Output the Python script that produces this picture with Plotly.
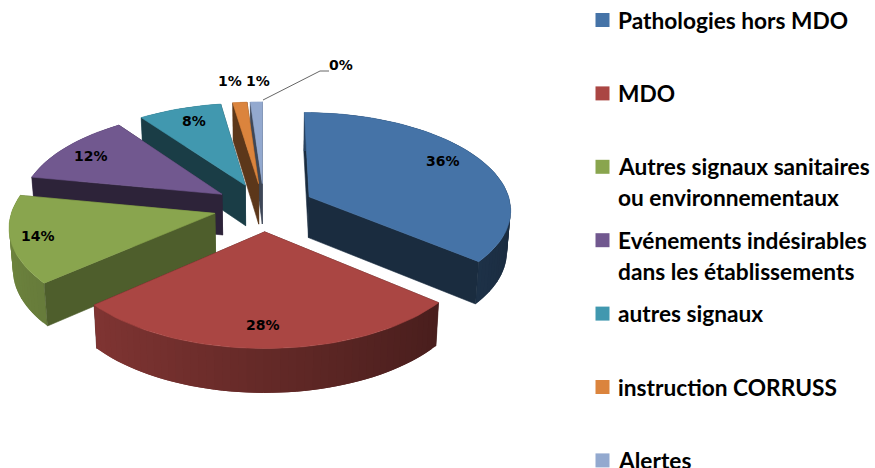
import math
import plotly.graph_objects as go

categories = ["Pathologies hors MDO", "MDO", "Autres signaux sanitaires<br>ou environnementaux",
              "Evénements indésirables<br>dans les établissements", "autres signaux",
              "instruction CORRUSS", "Alertes"]
values = [36, 27.6, 14.4, 12, 7.6, 1.3, 1.1]
shown_labels = [36, 28, 14, 12, 8, 1, 1]
hidden_label_value = 0
colors = ["#4573A7", "#AA4643", "#89A54E", "#71588F", "#4198AF", "#DB843D", "#93A9CF"]
wall_shade = [0.38, 0.40, 0.57, 0.40, 0.40, 0.42, 0.42]

# projection of the tilted, exploded pie onto the page
CX, CY, A, B, K, EXPLODE, DEPTH, FLOOR_SHRINK = 264, 207, 202, 96.5, 0.118, 0.25, 41, 0.985

label_pos = [(443, 161), (263, 325), (38, 236), (91, 156), (194, 121), (230, 81), (258, 81)]
zero_pos = (341, 65)


def rgb(h):
    return [int(h[i:i + 2], 16) for i in (1, 3, 5)]


def shade(h, f):
    return "rgb({},{},{})".format(*[round(c * f) for c in rgb(h)])


def project(X, Y, drop=False):
    s = 1 / (1 + K * Y)
    y = CY - B * Y * s
    x = CX + A * X * s
    if drop:
        y += DEPTH * math.sqrt(s)
        x = CX + A * X * s * FLOOR_SHRINK
    return x, y


def poly(fig, pts, color, lw=0.6):
    xs = [p[0] for p in pts] + [pts[0][0]]
    ys = [p[1] for p in pts] + [pts[0][1]]
    fig.add_trace(go.Scatter(x=xs, y=ys, mode="lines", fill="toself", fillcolor=color,
                             line=dict(color=color, width=lw), hoverinfo="skip", showlegend=False))


total = sum(values)
slices = []
start = 0.0
for i, v in enumerate(values):
    end = start + v / total * 360
    slices.append((i, start, end))
    start = end

fig = go.Figure()

# far slices first, near slices last
order = [6, 5, 4, 3, 2, 0, 1]
for i in order:
    _, t0, t1 = slices[i]
    base = colors[i]
    tm = math.radians((t0 + t1) / 2)
    ox, oy = EXPLODE * math.sin(tm), EXPLODE * math.cos(tm)
    n = max(2, int((t1 - t0) / 2))
    ts = [math.radians(t0 + (t1 - t0) * j / n) for j in range(n + 1)]
    rim = [(ox + math.sin(t), oy + math.cos(t)) for t in ts]
    apex = (ox, oy)
    wall = shade(base, wall_shade[i])

    # outer rim: overlapping strips so no seams show between shade steps
    strips = []
    for j in range(n):
        p, q = rim[j], rim[min(j + 2, n)]
        tmid = (ts[j] + ts[j + 1]) / 2
        f = (1 - math.sin(tmid)) / 2
        c = shade(base, 0.38 + f * 0.42)
        strips.append((j, [project(*p), project(*q), project(*q, True), project(*p, True)], c))
    far_first = rim[0][1] > rim[-1][1]

    # cut faces: those turned away from the viewer go behind the rim, the others in front
    front, back = [], []
    for p, normal_deg in ((rim[0], t0 - 90), (rim[-1], t1 + 90)):
        pts = [project(*apex), project(*p), project(*p, True), project(*apex, True)]
        (front if math.cos(math.radians(normal_deg)) < 0 else back).append(pts)
    for pts in back:
        poly(fig, pts, wall)
    for _, pts, c in (strips if far_first else strips[::-1]):
        poly(fig, pts, c, lw=0)
    for pts in front:
        poly(fig, pts, wall)
    poly(fig, [project(*apex)] + [project(*p) for p in rim], base)

# leader line of the 0 % label
fig.add_trace(go.Scatter(x=[263, 320, 329], y=[100, 71, 71], mode="lines",
                         line=dict(color="#666666", width=1), hoverinfo="skip", showlegend=False))

annotations = []
pct_font = dict(family="DejaVu Sans", size=14, color="black", weight="bold")
for v, (x, y) in zip(shown_labels, label_pos):
    annotations.append(dict(x=x, y=y, text=f"{v}%", showarrow=False, font=pct_font,
                            xref="x", yref="y", xanchor="center", yanchor="middle"))
annotations.append(dict(x=zero_pos[0], y=zero_pos[1], text=f"{hidden_label_value}%", showarrow=False,
                        font=pct_font, xref="x", yref="y", xanchor="center", yanchor="middle"))

# hand-placed legend
LEG_X, LEG_Y, LEG_STEP, LEG_LINE = 602.5, 20, 73.4, 31
leg_font = dict(family="Lato", size=22.7, color="black", weight="bold")
fig.add_trace(go.Scatter(x=[LEG_X] * len(categories), y=[LEG_Y + LEG_STEP * i for i in range(len(categories))],
                         mode="markers", marker=dict(symbol="square", size=14, color=colors, line=dict(width=0)),
                         hoverinfo="skip", showlegend=False))
for i, cat in enumerate(categories):
    for j, line in enumerate(cat.split("<br>")):
        annotations.append(dict(x=616, y=LEG_Y + LEG_STEP * i + j * LEG_LINE, text=line, showarrow=False,
                                font=leg_font, xref="x", yref="y", xanchor="left", yanchor="middle"))

fig.update_layout(width=875, height=468, margin=dict(l=0, r=0, t=0, b=0), autosize=False,
                  paper_bgcolor="white", plot_bgcolor="white", annotations=annotations,
                  xaxis=dict(range=[0, 875], visible=False, fixedrange=True),
                  yaxis=dict(range=[468, 0], visible=False, fixedrange=True))
fig.write_html("out.html", config={"displayModeBar": False},
               post_script="document.body.style.margin='0';document.body.style.overflow='hidden';")
